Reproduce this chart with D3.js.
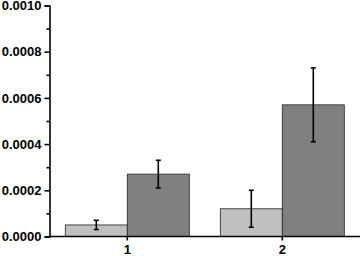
<!DOCTYPE html>
<html>
<head>
<meta charset="UTF-8">
<script src="https://d3js.org/d3.v7.min.js"></script>
<style>
  body { margin: 0; background: #fff; overflow: hidden; }
  .tick text { font-family: Arial, "Liberation Sans", sans-serif; font-weight: bold; font-size: 13px; fill: #000; }
</style>
</head>
<body>
<svg id="chart"></svg>
<script>
const categories = ["1", "2"];
const series = ["light", "dark"];
const lightValues = [0.00005, 0.00012];
const lightErrors = [0.00002, 0.00008];
const darkValues = [0.00027, 0.00057];
const darkErrors = [0.00006, 0.00016];
const yTicks = [0, 0.0002, 0.0004, 0.0006, 0.0008, 0.0010];
const yMinorTicks = [0.0001, 0.0003, 0.0005, 0.0007, 0.0009];

const width = 360, height = 256;
const colors = { light: "#c0c0c0", dark: "#808080" };

const svg = d3.select("#chart").attr("width", width).attr("height", height);

const x = d3.scaleBand().domain(categories).range([49.8, 359.8]).padding(0);
const xs = d3.scaleBand().domain(series).range([0, x.bandwidth()]).paddingOuter(0.25).paddingInner(0);
const y = d3.scaleLinear().domain([0, 0.001]).range([236.5, 5.5]);

const rows = categories.map((c, i) => [
  { cat: c, s: "light", v: lightValues[i], e: lightErrors[i] },
  { cat: c, s: "dark", v: darkValues[i], e: darkErrors[i] }
]).flat();

svg.selectAll("rect.bar").data(rows).enter().append("rect")
  .attr("class", "bar")
  .attr("x", d => x(d.cat) + xs(d.s))
  .attr("y", d => y(d.v))
  .attr("width", xs.bandwidth())
  .attr("height", d => y(0) - y(d.v))
  .attr("fill", d => colors[d.s])
  .attr("stroke", "#222")
  .attr("stroke-width", 0.8);

const eb = svg.selectAll("g.err").data(rows).enter().append("g")
  .attr("stroke", "#000").attr("stroke-width", 1.6);
eb.append("line")
  .attr("x1", d => x(d.cat) + xs(d.s) + xs.bandwidth() / 2)
  .attr("x2", d => x(d.cat) + xs(d.s) + xs.bandwidth() / 2)
  .attr("y1", d => y(d.v + d.e)).attr("y2", d => y(d.v - d.e));
[1, -1].forEach(sg => {
  eb.append("line")
    .attr("x1", d => x(d.cat) + xs(d.s) + xs.bandwidth() / 2 - 2.5)
    .attr("x2", d => x(d.cat) + xs(d.s) + xs.bandwidth() / 2 + 2.5)
    .attr("y1", d => y(d.v + sg * d.e)).attr("y2", d => y(d.v + sg * d.e));
});

// y axis
svg.append("g").attr("transform", "translate(49.5,0)")
  .call(d3.axisLeft(y).tickValues(yTicks).tickFormat(d3.format(".4f")).tickSize(5).tickPadding(3));
svg.append("g").attr("transform", "translate(49.5,0)")
  .call(d3.axisLeft(y).tickValues(yMinorTicks).tickFormat("").tickSize(3))
  .select(".domain").remove();

// x axis
const xAxis = svg.append("g").attr("transform", "translate(0,236.5)")
  .call(d3.axisBottom(x).tickSize(4).tickPadding(4).tickSizeOuter(0));
xAxis.select(".domain").attr("d", "M49.5,0H360");

svg.selectAll(".domain, .tick line").attr("stroke", "#000").attr("stroke-width", 1.6);
</script>
</body>
</html>
